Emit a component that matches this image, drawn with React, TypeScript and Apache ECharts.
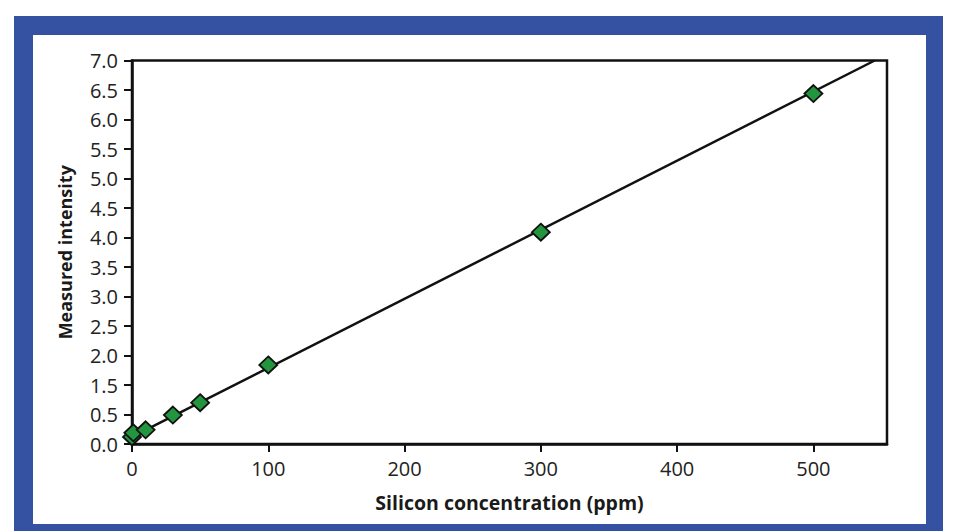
import React, { useEffect, useRef } from "react";
import * as echarts from "echarts";

// Measured points (x in ppm, y in axis units as drawn)
const CONCENTRATION = [0, 1, 10, 30, 50, 100, 300, 500];
const INTENSITY = [0.12, 0.19, 0.24, 0.49, 0.7, 1.34, 3.59, 5.94];
// Calibration line end points
const FIT_X = [0, 545];
const FIT_Y = [0.12, 6.5];
// Tick labels as printed in the original (no "1.0" label)
const Y_TICK_LABELS = ["0.0", "0.5", "1.5", "2.0", "2.5", "3.0", "3.5", "4.0", "4.5", "5.0", "5.5", "6.0", "6.5", "7.0"];
const X_TICKS = [0, 100, 200, 300, 400, 500];

const FONT = "'Open Sans', 'Noto Sans', sans-serif";

export default function App() {
  const ref = useRef<HTMLDivElement>(null);
  useEffect(() => {
    document.body.style.margin = "0";
    const chart = echarts.init(ref.current!, undefined, { renderer: "svg" });
    const scatterData = CONCENTRATION.map((x, i) => [x, INTENSITY[i]]);
    const fitData = FIT_X.map((x, i) => [x, FIT_Y[i]]);
    chart.setOption({
      animation: false,
      backgroundColor: "#ffffff",
      graphic: [
        { type: "rect", z: -20, silent: true, shape: { x: 14, y: 16, width: 929, height: 520 }, style: { fill: "#3451a2" } },
        { type: "rect", z: -19, silent: true, shape: { x: 33, y: 35, width: 893, height: 489 }, style: { fill: "#ffffff" } },
      ],
      grid: {
        left: 132,
        right: 68,
        top: 60.5,
        bottom: 87,
        show: true,
        borderColor: "#111",
        borderWidth: 2.5,
        backgroundColor: "transparent",
      },
      xAxis: {
        type: "value",
        min: 0,
        max: 554,
        interval: 100,
        splitLine: { show: false },
        axisLine: { show: true, onZero: false, lineStyle: { color: "#111", width: 2.5 } },
        axisTick: { show: true, inside: false, length: 8, lineStyle: { color: "#111", width: 2 }, customValues: X_TICKS },
        axisLabel: { customValues: X_TICKS, margin: 14, fontFamily: FONT, fontSize: 20, color: "#222" },
        name: "Silicon concentration (ppm)",
        nameLocation: "middle",
        nameGap: 48,
        nameTextStyle: { fontFamily: FONT, fontSize: 19.5, fontWeight: "bold", color: "#1a1a1a" },
      },
      yAxis: {
        type: "value",
        min: 0,
        max: 6.5,
        interval: 0.5,
        splitLine: { show: false },
        axisLine: { show: true, onZero: false, lineStyle: { color: "#111", width: 2.5 } },
        axisTick: { show: true, inside: false, length: 8, lineStyle: { color: "#111", width: 2 } },
        axisLabel: {
          margin: 14,
          fontFamily: FONT,
          fontSize: 20,
          color: "#222",
          formatter: (_v: number, idx: number) => Y_TICK_LABELS[idx] ?? "",
        },
        name: "Measured intensity",
        nameLocation: "middle",
        nameGap: 58,
        nameTextStyle: { fontFamily: FONT, fontSize: 18, fontWeight: "bold", color: "#1a1a1a" },
      },
      series: [
        {
          type: "line",
          data: fitData,
          symbol: "none",
          lineStyle: { color: "#111", width: 2.5 },
          z: 2,
          silent: true,
        },
        {
          type: "scatter",
          data: scatterData,
          symbol: "diamond",
          symbolSize: [18, 17],
          clip: false,
          itemStyle: { color: "#23953f", borderColor: "#111", borderWidth: 1.8, opacity: 1 },
          z: 3,
        },
      ],
    });
    return () => chart.dispose();
  }, []);
  return <div ref={ref} style={{ width: 955, height: 531 }} />;
}
